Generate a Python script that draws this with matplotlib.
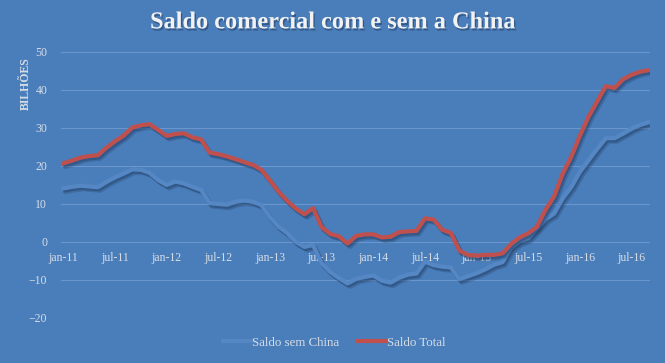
import matplotlib
matplotlib.use('Agg')
import matplotlib.pyplot as plt
import matplotlib.patheffects as pe

# monthly values, jan-11 .. sep-16 (bilhões)
saldo_total = [20.7, 21.4, 22.2, 22.6, 22.8, 24.8, 26.5, 28.0, 30.1, 30.7,
               31.0, 29.5, 27.9, 28.4, 28.6, 27.5, 27.0, 23.5, 23.1, 22.5,
               21.8, 21.0, 20.3, 19.0, 16.2, 13.2, 10.8, 8.8, 7.3, 8.9,
               3.9, 2.1, 1.5, -0.4, 1.6, 2.0, 2.0, 1.2, 1.4, 2.6,
               2.8, 2.9, 6.2, 5.9, 3.2, 2.4, -2.3, -3.4, -3.6, -3.4,
               -3.4, -3.0, -0.5, 1.2, 2.3, 4.0, 8.5, 12.0, 18.0, 22.5,
               28.0, 33.0, 37.0, 41.0, 40.5, 42.8, 44.0, 44.8, 45.2]
saldo_sem_china = [14.1, 14.5, 14.8, 14.6, 14.4, 15.8, 17.0, 18.0, 19.1, 19.0,
                   18.2, 16.3, 15.0, 15.9, 15.4, 14.5, 13.7, 10.2, 10.0, 9.8,
                   10.6, 10.9, 10.6, 9.7, 6.5, 4.0, 2.3, 0.0, -1.3, -0.8,
                   -5.6, -7.9, -9.5, -10.9, -9.7, -9.2, -8.8, -10.2, -10.7, -9.4,
                   -8.6, -8.3, -5.2, -6.1, -6.5, -6.7, -9.8, -9.0, -8.2, -7.2,
                   -6.0, -5.3, -1.5, 0.2, 1.0, 3.5, 6.0, 7.5, 11.5, 14.5,
                   18.5, 21.5, 24.5, 27.3, 27.3, 28.5, 29.8, 30.8, 31.5]
tick_labels = ['jan-11', 'jul-11', 'jan-12', 'jul-12', 'jan-13', 'jul-13',
               'jan-14', 'jul-14', 'jan-15', 'jul-15', 'jan-16', 'jul-16']

bg = '#4A7EBB'
txt = '#D6DCE5'
months = list(range(len(saldo_total)))

fig = plt.figure(figsize=(6.65, 3.63), dpi=100, facecolor=bg)
ax = fig.add_axes([0.092, 0.124, 0.885, 0.733], facecolor=bg)

# soft drop shadow: two faint offset copies
shadow = [pe.SimpleLineShadow(offset=(2, -2.5), shadow_color='#1C3558', alpha=0.25),
          pe.SimpleLineShadow(offset=(1, -1.5), shadow_color='#1C3558', alpha=0.35),
          pe.Normal()]
ax.plot(months, saldo_sem_china, color='#5487C4', lw=3, label='Saldo sem China',
        path_effects=shadow, solid_joinstyle='round', zorder=3)
ax.plot(months, saldo_total, color='#C0504D', lw=3, label='Saldo Total',
        path_effects=shadow, solid_joinstyle='round', zorder=4)

ax.set_ylim(-20, 50)
ax.set_xlim(-0.25, 68.1)
ax.set_yticks(range(-20, 51, 10))
ax.set_xticks(range(0, 67, 6))
ax.set_xticklabels(tick_labels)
ax.grid(axis='y', color='#6B96CC', lw=0.8)
ax.set_axisbelow(True)
for s in ax.spines.values():
    s.set_visible(False)
ax.spines['bottom'].set_position(('data', 0))
ax.tick_params(length=0, colors=txt, labelsize=8.5)
for lab in ax.get_xticklabels() + ax.get_yticklabels():
    lab.set_family('Liberation Serif')
ax.tick_params(axis='x', pad=7)
ax.tick_params(axis='y', pad=10)

ax.set_ylabel('BILHÕES', family='Liberation Serif', fontweight='bold',
              fontsize=8.5, color=txt)
ax.yaxis.set_label_coords(-0.05, 0.88)

fig.text(0.5, 0.937, 'Saldo comercial com e sem a China', ha='center', va='center',
         family='Liberation Serif', fontweight='bold', fontsize=17.5, color='#F2F2F2',
         path_effects=[pe.withSimplePatchShadow(offset=(1, -1.5), shadow_rgbFace='#1C3558', alpha=0.5)])

leg = ax.legend(loc='center', bbox_to_anchor=(0.464, -0.094), ncol=2, frameon=False,
                prop={'family': 'Liberation Serif', 'size': 9.3},
                handlelength=2.2, handletextpad=0.05, columnspacing=1.4)
for t in leg.get_texts():
    t.set_color(txt)
for h in leg.get_lines():
    h.set_path_effects([])

fig.savefig('out.png', dpi=100, facecolor=bg)
